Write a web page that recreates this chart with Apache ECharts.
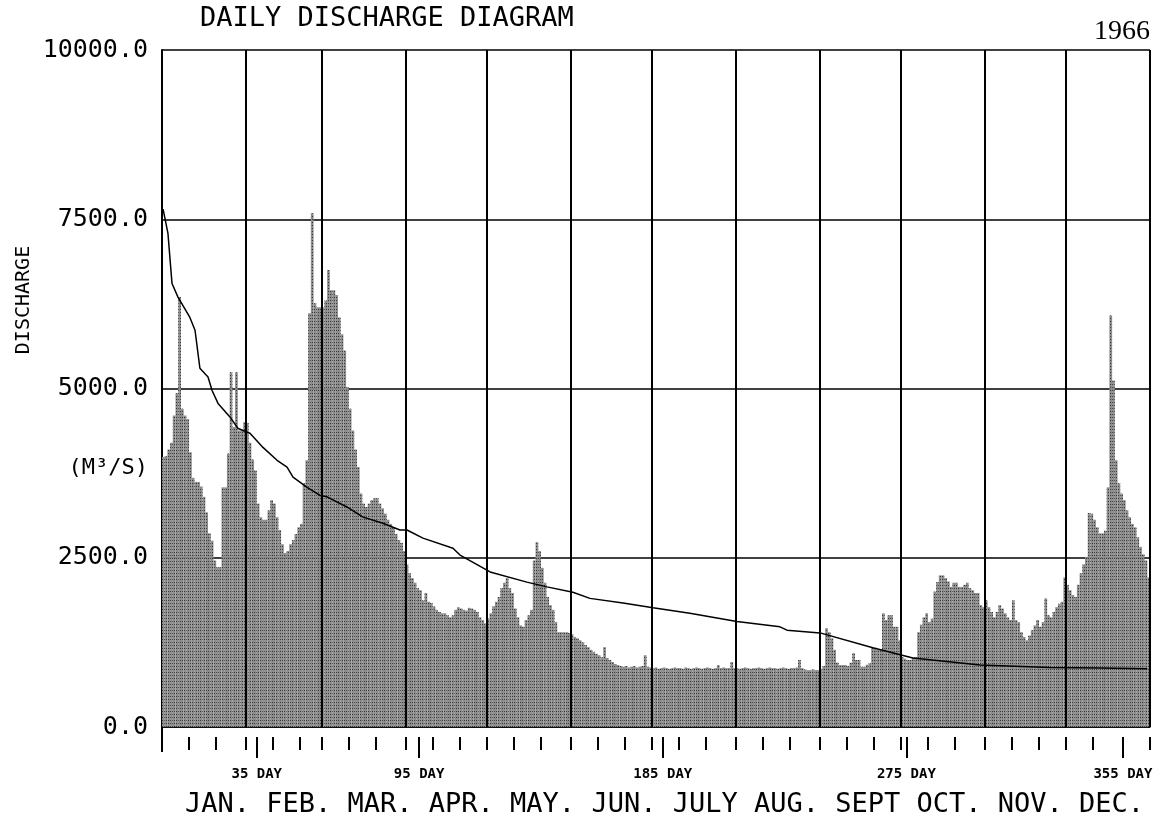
<!DOCTYPE html>
<html>
<head>
<meta charset="utf-8">
<script src="https://cdn.jsdelivr.net/npm/echarts@6/dist/echarts.min.js"></script>
<style>
html,body{margin:0;padding:0;background:#fff;}
#chart{width:1170px;height:821px;}
</style>
</head>
<body>
<div id="chart"></div>
<script>
// ---- data (daily discharge, m3/s) ----
var jan = [3990,4000,4100,4200,4600,4930,6350,4700,4600,4550,4060,3680,3620,3620,3550,3400,3170,2860,2750,2460,2360,2360,3540,3540,4040,5240,4430,5240,4380,4380,4500];
var feb = [4490,4200,3950,3790,3300,3100,3060,3060,3200,3350,3300,3100,2910,2700,2570,2600,2700,2760,2850,2950,3000,3600,3940,6110,7590,6260,6200,6200];
var mar = [6200,6300,6750,6450,6450,6380,6050,5800,5560,5020,4700,4380,4100,3840,3450,3300,3250,3300,3350,3380,3380,3300,3230,3150,3060,3000,2950,2850,2760,2720,2600];
var apr = [2400,2270,2200,2130,2050,2020,1870,1980,1850,1830,1780,1730,1700,1680,1680,1650,1620,1650,1730,1770,1750,1730,1720,1760,1750,1730,1700,1620,1580,1530];
var may = [1600,1680,1780,1850,1920,2050,2130,2200,2050,1980,1750,1620,1500,1480,1580,1650,1730,2460,2730,2600,2350,2130,1920,1800,1730,1550,1400,1400,1400,1400,1390];
var jun = [1370,1330,1310,1280,1250,1210,1180,1140,1110,1080,1060,1030,1180,1020,990,960,930,915,900,890,900,880,890,900,880,890,900,1060,890,880];
var jul = [870,880,860,870,880,870,860,870,880,870,870,860,880,870,860,870,880,870,860,870,880,870,860,870,915,870,880,870,870,960,870];
var aug = [870,860,870,880,870,860,870,870,880,870,860,870,880,870,870,860,870,880,870,860,870,870,880,990,870,850,840,840,850,840,840];
var sep = [860,900,1460,1400,1310,1140,950,915,915,915,900,950,1090,990,990,890,890,920,940,1170,1170,1140,1140,1680,1580,1650,1650,1480,1480,1280];
var oct = [1030,1010,990,990,1030,1030,1400,1510,1620,1680,1550,1600,2000,2140,2240,2240,2200,2150,2070,2130,2130,2070,2070,2100,2130,2050,2020,1980,1980,1800,1770];
var nov = [1870,1770,1700,1620,1700,1800,1750,1680,1620,1580,1870,1580,1550,1400,1330,1280,1350,1430,1500,1580,1480,1550,1900,1650,1620,1700,1770,1820,1850,2210];
var dec = [2100,2020,1950,1920,2100,2270,2400,2510,3160,3150,3060,2950,2860,2860,2900,3540,6080,5120,3940,3600,3450,3350,3200,3100,3000,2950,2800,2660,2550,2460,2210];

// flow-duration curve: day position and discharge
var durationDays   = [0.4, 2.2, 3.7, 5.9, 10.3, 12.2, 14.0, 17.0, 18.5, 20.7, 25.1, 28.1, 32.5, 37.3, 42.5, 46.2, 48.4, 53.6, 58.4, 61.0, 68.3, 74.3, 81.6, 87.9, 90.5, 96.4, 107.5, 110.1, 121.2, 134.8, 142.2, 151.8, 158.1, 170.3, 181.4, 195.0, 212.4, 228.3, 230.9, 243.1, 262.6, 277.4, 302.2, 328.0, 346.5, 364.0];
var durationValues = [7650, 7290, 6550, 6350, 6050, 5860, 5300, 5170, 4970, 4780, 4580, 4410, 4340, 4130, 3940, 3840, 3690, 3540, 3420, 3400, 3250, 3100, 3010, 2910, 2910, 2790, 2640, 2540, 2290, 2140, 2070, 1990, 1900, 1830, 1760, 1680, 1560, 1480, 1430, 1390, 1170, 1020, 915, 880, 870, 860];

// axis / label content
var monthStartDays = [31, 59, 90, 120, 151, 181, 212, 243, 273, 304, 334];
var dekadTickDays = [10, 20, 31, 41, 51, 59, 69, 79, 90, 100, 110, 120, 130, 140, 151, 161, 171, 181, 191, 201, 212, 222, 232, 243, 253, 263, 273, 283, 293, 304, 314, 324, 334, 344, 365];
var longTickDays = [35, 95, 185, 275, 355];
var dayLabelDays = [35, 95, 185, 275, 355];
var dayLabelSuffix = ' DAY';
var monthNames = ['JAN.', 'FEB.', 'MAR.', 'APR.', 'MAY.', 'JUN.', 'JULY', 'AUG.', 'SEPT', 'OCT.', 'NOV.', 'DEC.'];
var yTicks = [0, 2500, 5000, 7500, 10000];
var titleText = 'DAILY DISCHARGE DIAGRAM';
var yearText = '1966';
var yNameText = 'DISCHARGE';
var unitText = '(M\u00B3/S)';

// ---- build chart ----
var daily = [].concat(jan, feb, mar, apr, may, jun, jul, aug, sep, oct, nov, dec);
var barData = daily.map(function (v, i) { return [i + 0.5, v]; });
var lineData = durationDays.map(function (d, i) { return [d, durationValues[i]]; });

var MONO = '"DejaVu Sans Mono", "Liberation Mono", monospace';
var chart = echarts.init(document.getElementById('chart'), null, { renderer: 'canvas' });

var xBase = { type: 'value', min: 0, max: 365, splitLine: { show: false } };

chart.setOption({
  animation: false,
  backgroundColor: '#fff',
  grid: { left: 162, top: 50, width: 988, height: 677, containLabel: false },
  xAxis: [
    Object.assign({}, xBase, {
      axisLine: { show: true, lineStyle: { color: '#000', width: 1.5 } },
      axisTick: { show: true, customValues: [0], length: 25, lineStyle: { color: '#000', width: 2 } },
      axisLabel: { show: false }
    }),
    Object.assign({}, xBase, {
      position: 'bottom', offset: 10,
      axisLine: { show: false },
      axisTick: { show: true, customValues: dekadTickDays, length: 13, lineStyle: { color: '#000', width: 2 } },
      axisLabel: { show: false }
    }),
    Object.assign({}, xBase, {
      position: 'bottom', offset: 10,
      axisLine: { show: false },
      axisTick: { show: true, customValues: longTickDays, length: 21, lineStyle: { color: '#000', width: 2 } },
      axisLabel: {
        show: true, customValues: dayLabelDays, margin: 30,
        formatter: function (v) { return v + dayLabelSuffix; },
        color: '#000', fontFamily: MONO, fontWeight: 'bold', fontSize: 14
      }
    })
  ],
  yAxis: {
    type: 'value', min: yTicks[0], max: yTicks[yTicks.length - 1], interval: 2500,
    axisLine: { show: true, lineStyle: { color: '#000', width: 2 } },
    axisTick: { show: false },
    axisLabel: {
      margin: 14, color: '#000', fontFamily: MONO, fontSize: 25,
      formatter: function (v) { return v.toFixed(1); }
    },
    splitLine: { show: true, lineStyle: { color: '#000', width: 1.5 } }
  },
  series: [
    {
      type: 'bar', xAxisIndex: 0, yAxisIndex: 0, data: barData, barWidth: 2.7,
      itemStyle: {
        color: '#8c8c8c',
        decal: { symbol: 'rect', symbolSize: 1, color: 'rgba(0,0,0,0.6)', dashArrayX: [1, 1], dashArrayY: [1, 2], rotation: 0 }
      },
      markLine: {
        silent: true, symbol: 'none', label: { show: false },
        lineStyle: { color: '#000', width: 2, type: 'solid' },
        data: monthStartDays.concat([365]).map(function (d) { return { xAxis: d }; })
      }
    },
    {
      type: 'line', xAxisIndex: 0, yAxisIndex: 0, data: lineData,
      showSymbol: false, symbol: 'none',
      lineStyle: { color: '#000', width: 1.5 }
    }
  ],
  graphic: [
    { type: 'text', x: 200, y: 19, style: { text: titleText, font: '27px ' + MONO, fill: '#000', textAlign: 'left', textVerticalAlign: 'middle' } },
    { type: 'text', x: 1150, y: 32, style: { text: yearText, font: '28px "Liberation Serif", serif', fill: '#000', textAlign: 'right', textVerticalAlign: 'middle' } },
    { type: 'text', x: 24, y: 300, rotation: Math.PI / 2, style: { text: yNameText, font: '20px ' + MONO, fill: '#000', textAlign: 'center', textVerticalAlign: 'middle' } },
    { type: 'text', x: 148, y: 468, style: { text: unitText, font: '22px ' + MONO, fill: '#000', textAlign: 'right', textVerticalAlign: 'middle' } },
    { type: 'text', x: 185, y: 805, style: { text: monthNames.join(' '), font: '27px ' + MONO, fill: '#000', textAlign: 'left', textVerticalAlign: 'middle' } }
  ]
});
</script>
</body>
</html>
